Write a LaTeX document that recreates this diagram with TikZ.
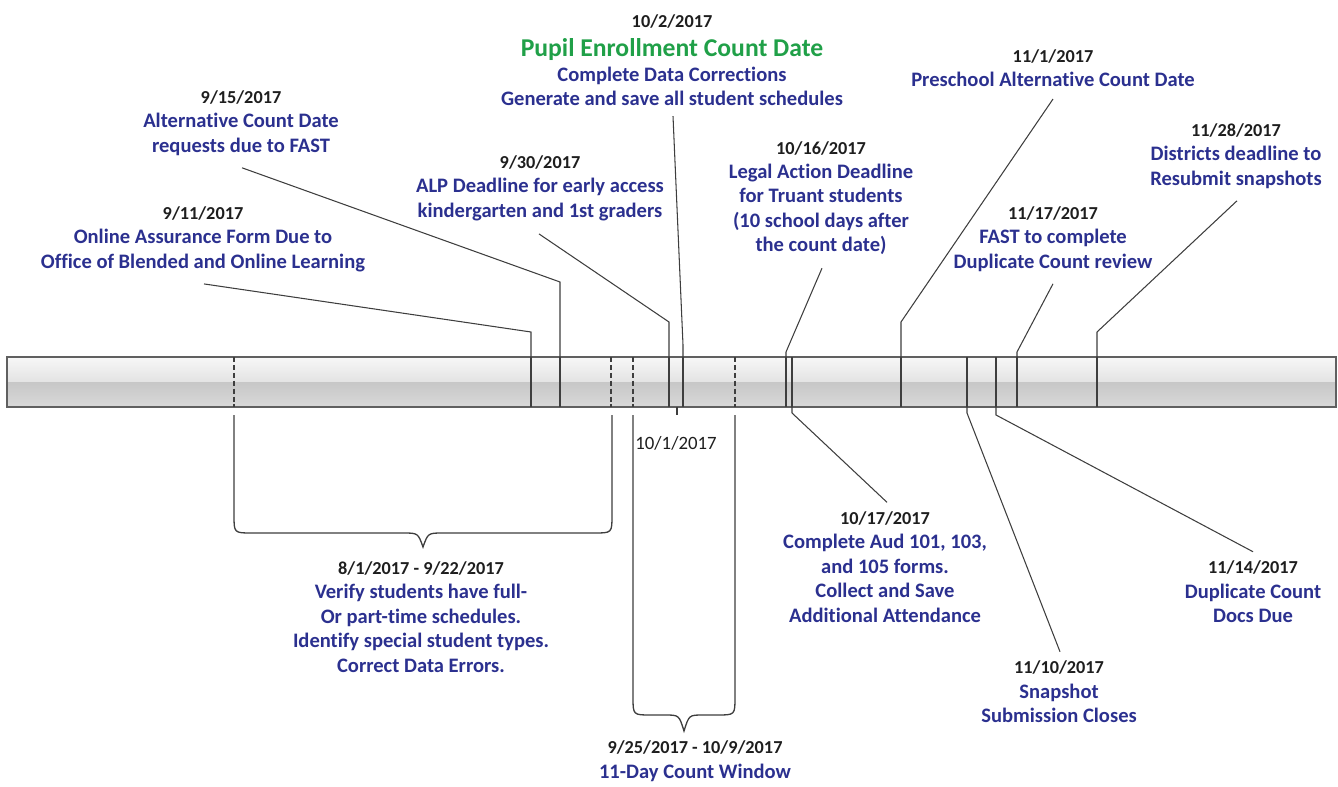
\documentclass[tikz,border=0pt]{standalone}
\usepackage{fontspec}
\setmainfont{Carlito}[Ligatures=NoCommon]
\usepackage{xcolor}
\usetikzlibrary{calc}
\definecolor{evtblue}{RGB}{43,48,143}
\definecolor{evtgreen}{RGB}{32,160,72}
\definecolor{dategray}{RGB}{30,30,30}
\definecolor{linegray}{RGB}{62,62,62}
\newcommand{\when}[1]{{\fontsize{10.4}{13.9}\selectfont\textcolor{dategray}{#1}}}

\begin{document}
\begin{tikzpicture}[x=0.02cm,y=-0.02cm,
  evt/.style={align=center,text=evtblue,inner sep=0pt,font=\fontsize{11.7}{13.9}\selectfont\bfseries},
  lead/.style={draw=linegray,line width=0.6pt},
  tick/.style={draw=linegray,line width=0.6pt},
  dtick/.style={tick,dash pattern=on 3pt off 1.5pt},
  baredge/.style={draw=gray!75!black,line width=0.7pt},
  brace/.style={draw=linegray,line width=0.75pt}]
\useasboundingbox (0,0) rectangle (1338,787);

% the bar
\shade[top color=gray!6,bottom color=gray!22] (7,357) rectangle (1336,382);
\shade[top color=gray!44,bottom color=gray!30] (7,382) rectangle (1336,407);
\draw[baredge] (7,357) rectangle (1336,407);
\foreach \x in {531,560,669,683,786,792,901,967,996,1017,1097}
  \draw[tick] (\x,357) -- (\x,407);
\foreach \x in {234,611,633,735}
  \draw[dtick] (\x,357) -- (\x,407);

% points on the bar
\coordinate (t911) at (531,357);
\coordinate (t915) at (560,357);
\coordinate (t930) at (669,357);
\coordinate (t1002) at (683,357);
\coordinate (t1016) at (786,357);
\coordinate (t1101) at (901,357);
\coordinate (t1117) at (1017,357);
\coordinate (t1128) at (1097,357);
\coordinate (b1001) at (677,407);
\coordinate (b1017) at (792,407);
\coordinate (b1110) at (967,407);
\coordinate (b1114) at (996,407);

% labels above the bar
\node[evt] (n911) at (203,239) {\when{9/11/2017}\\Online Assurance Form Due to\\Office of Blended and Online Learning};
\node[evt] (n915) at (241,123) {\when{9/15/2017}\\Alternative Count Date\\requests due to FAST};
\node[evt] (n930) at (540,188) {\when{9/30/2017}\\ALP Deadline for early access\\kindergarten and 1st graders};
\node[evt] (n1002) at (672,60) {\when{10/2/2017}\\[3pt]{\color{evtgreen}\fontsize{14.6}{15}\selectfont Pupil Enrollment Count Date}\\Complete Data Corrections\\Generate and save all student schedules};
\node[evt] (n1016) at (821,198) {\when{10/16/2017}\\Legal Action Deadline\\for Truant students\\(10 school days after\\the count date)};
\node[evt] (n1101) at (1053,68) {\when{11/1/2017}\\Preschool Alternative Count Date};
\node[evt] (n1117) at (1053,239) {\when{11/17/2017}\\FAST to complete\\Duplicate Count review};
\node[evt] (n1128) at (1236,156) {\when{11/28/2017}\\Districts deadline to\\Resubmit snapshots};

% labels below the bar
\node[font=\fontsize{10.7}{12}\selectfont,text=dategray,inner sep=0pt] (n1001) at (676,443) {10/1/2017};
\node[evt] (n1017) at (885,567) {\when{10/17/2017}\\Complete Aud 101, 103,\\and 105 forms.\\Collect and Save\\Additional Attendance};
\node[evt] (n1110) at (1059,692) {\when{11/10/2017}\\Snapshot\\Submission Closes};
\node[evt] (n1114) at (1253,592) {\when{11/14/2017}\\Duplicate Count\\Docs Due};
\node[evt] (n0801) at (421,617) {\when{8/1/2017 - 9/22/2017}\\Verify students have full-\\Or part-time schedules.\\Identify special student types.\\Correct Data Errors.};
\node[evt] (n0925) at (695,761) {\when{9/25/2017 - 10/9/2017}\\11-Day Count Window};

% leaders
\draw[lead] ($(n911.south)+(1,12)$) -- ($(t911)+(0,-25)$) -- (t911);
\draw[lead] ($(n915.south)+(1,12)$) -- ($(t915)+(0,-75)$) -- (t915);
\draw[lead] ($(n930.south)+(-1,13)$) -- ($(t930)+(0,-35)$) -- (t930);
\draw[lead] ($(n1002.south)+(1,10)$) -- ($(t1002)+(0,-12)$) -- (t1002);
\draw[lead] ($(n1016.south)+(1,13)$) -- ($(t1016)+(0,-5)$) -- (t1016);
\draw[lead] ($(n1101.south)+(0,12)$) -- ($(t1101)+(0,-35)$) -- (t1101);
\draw[lead] ($(n1117.south)+(0,12)$) -- ($(t1117)+(0,-5)$) -- (t1117);
\draw[lead] ($(n1128.south)+(1,12)$) -- ($(t1128)+(0,-25)$) -- (t1128);
\draw[tick] (b1001) -- ($(b1001)+(0,8)$);
\draw[lead] (b1017) -- ($(b1017)+(0,6)$) -- ($(n1017.north)+(2,-9)$);
\draw[lead] (b1110) -- ($(b1110)+(0,6)$) -- ($(n1110.north)+(1,-9)$);
\draw[lead] (b1114) -- ($(b1114)+(0,8)$) -- ($(n1114.north)+(0,-9)$);

% braces
\draw[brace] (234,415) -- (234,515) .. controls (234,533) .. (252,533) -- (403,533)
  .. controls (418,533) .. (423,547) .. controls (428,533) .. (443,533) -- (594,533)
  .. controls (612,533) .. (612,515) -- (612,415);
\draw[brace] (633,415) -- (633,697) .. controls (633,715) .. (651,715) -- (665,715)
  .. controls (679,715) .. (684,731) .. controls (689,715) .. (703,715) -- (717,715)
  .. controls (735,715) .. (735,697) -- (735,415);
\end{tikzpicture}
\end{document}
